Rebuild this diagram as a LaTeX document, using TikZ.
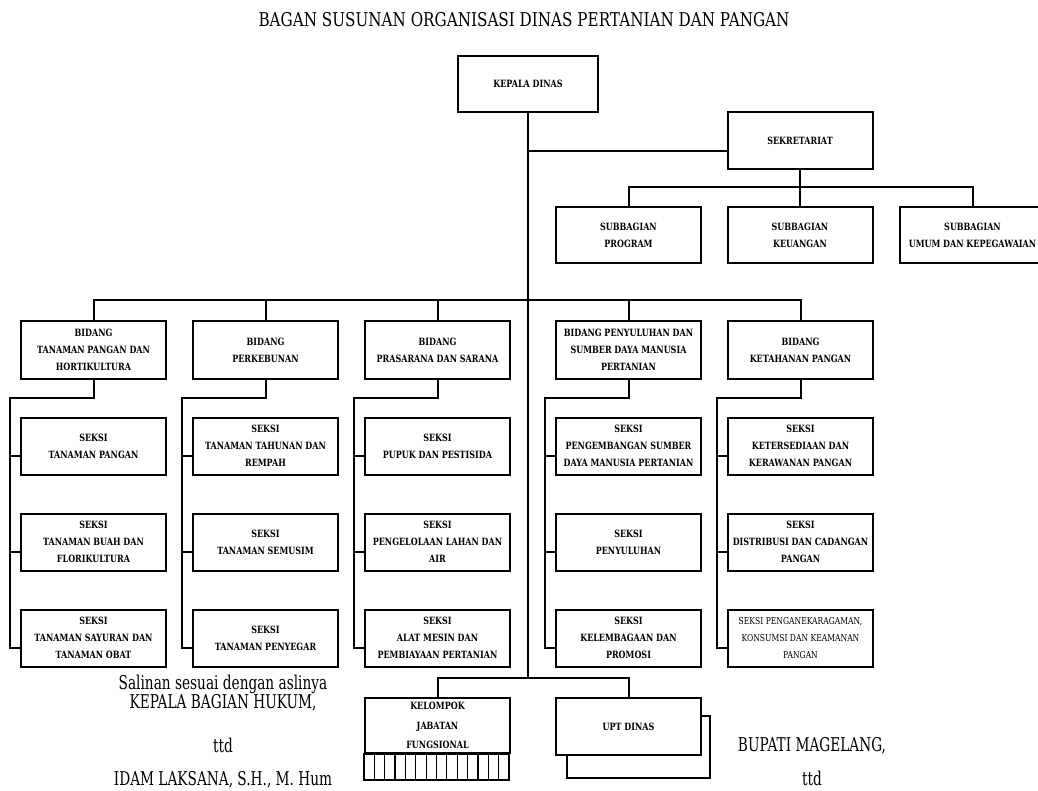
\documentclass[tikz,border=0pt]{standalone}
\usepackage{fontspec}
\setmainfont{DejaVu Serif}
\newfontfamily\sigfont[FakeStretch=0.72]{DejaVu Serif}
\newfontfamily\titlefont[FakeStretch=0.8]{DejaVu Serif}
\newfontfamily\boxfont[FakeStretch=0.8]{DejaVu Serif}
\usetikzlibrary{positioning}

\begin{document}
\begin{tikzpicture}[
    x=1pt, y=-1pt,
    node distance=37pt,
    unit/.style={draw, line width=2pt, minimum width=145pt, minimum height=57pt, inner sep=0pt, align=center, font=\boxfont\bfseries\fontsize{10}{17}\selectfont},
    small/.style={unit, font=\boxfont\bfseries\fontsize{10}{19.5}\selectfont},
    link/.style={line width=2pt},
    sign/.style={anchor=base, font=\sigfont\fontsize{19}{19}\selectfont}
]
\useasboundingbox (0,0) rectangle (1038,791);

\node[sign, font=\titlefont\fontsize{19}{19}\selectfont] (judul) at (524,27) {BAGAN SUSUNAN ORGANISASI DINAS PERTANIAN DAN PANGAN};

% top part
\node[small, minimum width=140pt, minimum height=56pt] (kepala) at (528,84) {KEPALA DINAS};
\node[small] (sekr) at (800,141) {SEKRETARIAT};
\node[unit, minimum height=56pt] (sub1) at (628.5,235) {SUBBAGIAN\\PROGRAM};
\node[unit, minimum height=56pt] (sub2) at (800,235) {SUBBAGIAN\\KEUANGAN};
\node[unit, minimum height=56pt] (sub3) at (972.5,235) {SUBBAGIAN\\UMUM DAN KEPEGAWAIAN};

% bidang
\node[unit] (bid1) at (93.5,350) {BIDANG\\TANAMAN PANGAN DAN\\HORTIKULTURA};
\node[unit] (bid2) at (265.5,350) {BIDANG\\PERKEBUNAN};
\node[unit] (bid3) at (437.5,350) {BIDANG\\PRASARANA DAN SARANA};
\node[unit] (bid4) at (628.5,350) {BIDANG PENYULUHAN DAN\\SUMBER DAYA MANUSIA\\PERTANIAN};
\node[unit] (bid5) at (800.5,350) {BIDANG\\KETAHANAN PANGAN};

% seksi
\node[unit, below=of bid1] (s11) {SEKSI\\TANAMAN PANGAN};
\node[unit, below=of s11] (s12) {SEKSI\\TANAMAN BUAH DAN\\FLORIKULTURA};
\node[unit, below=of s12] (s13) {SEKSI\\TANAMAN SAYURAN DAN\\TANAMAN OBAT};
\node[unit, below=of bid2] (s21) {SEKSI\\TANAMAN TAHUNAN DAN\\REMPAH};
\node[unit, below=of s21] (s22) {SEKSI\\TANAMAN SEMUSIM};
\node[unit, below=of s22] (s23) {SEKSI\\TANAMAN PENYEGAR};
\node[unit, below=of bid3] (s31) {SEKSI\\PUPUK DAN PESTISIDA};
\node[unit, below=of s31] (s32) {SEKSI\\PENGELOLAAN LAHAN DAN\\AIR};
\node[unit, below=of s32] (s33) {SEKSI\\ALAT MESIN DAN\\PEMBIAYAAN PERTANIAN};
\node[unit, below=of bid4] (s41) {SEKSI\\PENGEMBANGAN SUMBER\\DAYA MANUSIA PERTANIAN};
\node[unit, below=of s41] (s42) {SEKSI\\PENYULUHAN};
\node[unit, below=of s42] (s43) {SEKSI\\KELEMBAGAAN DAN\\PROMOSI};
\node[unit, below=of bid5] (s51) {SEKSI\\KETERSEDIAAN DAN\\KERAWANAN PANGAN};
\node[unit, below=of s51] (s52) {SEKSI\\DISTRIBUSI DAN CADANGAN\\PANGAN};
\node[unit, below=of s52, font=\boxfont\fontsize{9.5}{17}\selectfont] (s53) {SEKSI PENGANEKARAGAMAN,\\KONSUMSI DAN KEAMANAN\\PANGAN};

% bottom
\node[small, minimum height=55pt] (jabfung) at (437.5,725.5) {KELOMPOK\\JABATAN\\FUNGSIONAL};
\node[draw, line width=2pt, minimum width=143pt, minimum height=62pt] (uptback) at (638.5,747) {};
\node[small, fill=white] (upt) at (628.5,726.5) {UPT DINAS};

% lines
\draw[link] (jabfung.north) -- ++(0,-19) coordinate (fork) -| (upt.north);
\draw[link] (kepala.south) -- (kepala.south |- fork);
\coordinate (sekrin) at ([yshift=-10pt]sekr.west);
\draw[link] (sekrin) -- (kepala.south |- sekrin);
\draw[link] (sekr.south) -- (sub2.north);
\draw[link] (sub1.north) -- ++(0,-19) -| (sub3.north);
\draw[link] (bid1.north) -- ++(0,-20) -| (bid5.north);
\draw[link] (bid2.north) -- ++(0,-20);
\draw[link] (bid3.north) -- ++(0,-20);
\draw[link] (bid4.north) -- ++(0,-20);

\draw[link] (bid1.south) -- ++(0,18) -| ([xshift=-10pt,yshift=-10pt]s13.west) -- ([yshift=-10pt]s13.west);
\draw[link] ([xshift=-10pt,yshift=-10pt]s11.west) -- ([yshift=-10pt]s11.west);
\draw[link] ([xshift=-10pt,yshift=-10pt]s12.west) -- ([yshift=-10pt]s12.west);
\draw[link] (bid2.south) -- ++(0,18) -| ([xshift=-10pt,yshift=-10pt]s23.west) -- ([yshift=-10pt]s23.west);
\draw[link] ([xshift=-10pt,yshift=-10pt]s21.west) -- ([yshift=-10pt]s21.west);
\draw[link] ([xshift=-10pt,yshift=-10pt]s22.west) -- ([yshift=-10pt]s22.west);
\draw[link] (bid3.south) -- ++(0,18) -| ([xshift=-10pt,yshift=-10pt]s33.west) -- ([yshift=-10pt]s33.west);
\draw[link] ([xshift=-10pt,yshift=-10pt]s31.west) -- ([yshift=-10pt]s31.west);
\draw[link] ([xshift=-10pt,yshift=-10pt]s32.west) -- ([yshift=-10pt]s32.west);
\draw[link] (bid4.south) -- ++(0,18) -| ([xshift=-10pt,yshift=-10pt]s43.west) -- ([yshift=-10pt]s43.west);
\draw[link] ([xshift=-10pt,yshift=-10pt]s41.west) -- ([yshift=-10pt]s41.west);
\draw[link] ([xshift=-10pt,yshift=-10pt]s42.west) -- ([yshift=-10pt]s42.west);
\draw[link] (bid5.south) -- ++(0,18) -| ([xshift=-10pt,yshift=-10pt]s53.west) -- ([yshift=-10pt]s53.west);
\draw[link] ([xshift=-10pt,yshift=-10pt]s51.west) -- ([yshift=-10pt]s51.west);
\draw[link] ([xshift=-10pt,yshift=-10pt]s52.west) -- ([yshift=-10pt]s52.west);

% hatched strip under jabatan fungsional
\draw[link] (jabfung.south west) rectangle ++(145,26);
\foreach \i in {1,...,13}
    \draw[line width=1.2pt] ([xshift=\i*10.36pt]jabfung.south west) -- ++(0,26);

% signatures
\node[sign] (salinan) at (223,689) {Salinan sesuai dengan aslinya};
\node[sign] (kabag) at (223,708) {KEPALA BAGIAN HUKUM,};
\node[sign] (ttdkiri) at (223,752) {ttd};
\node[sign] (namakabag) at (223,785) {IDAM LAKSANA, S.H., M. Hum};
\node[sign] (bupati) at (812,751) {BUPATI MAGELANG,};
\node[sign] (ttdkanan) at (812,785) {ttd};
\end{tikzpicture}
\end{document}
